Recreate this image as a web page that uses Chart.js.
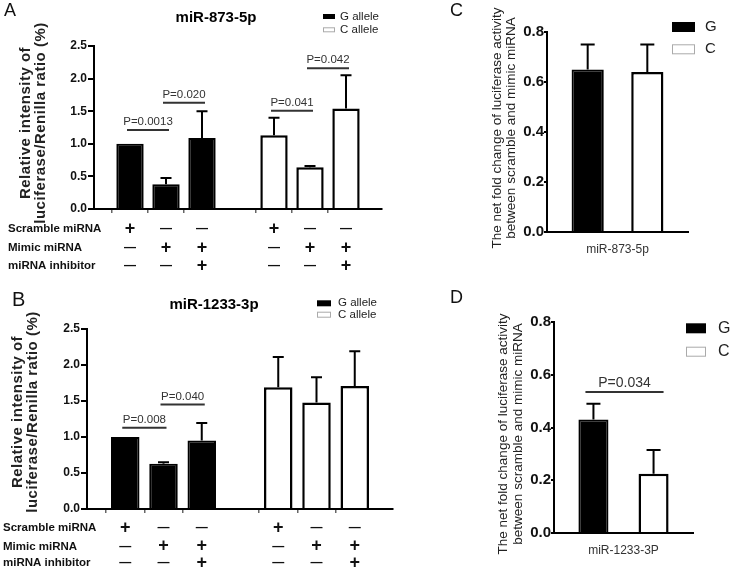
<!DOCTYPE html>
<html>
<head>
<meta charset="utf-8">
<script src="https://cdn.jsdelivr.net/npm/chart.js@4.4.1/dist/chart.umd.min.js"></script>
<style>
  html, body { margin: 0; padding: 0; background: #fff; }
  #fig { position: relative; width: 733px; height: 570px; overflow: hidden; background: #fff; }
  #fig canvas { position: absolute; }
</style>
</head>
<body>
<div id="fig">
  <canvas id="chartA" width="450" height="280" style="left:0;top:0"></canvas>
  <canvas id="chartB" width="450" height="290" style="left:0;top:280px"></canvas>
  <canvas id="chartC" width="283" height="280" style="left:450px;top:0"></canvas>
  <canvas id="chartD" width="283" height="280" style="left:450px;top:290px"></canvas>
</div>
<script>
// panels A / B: three treatments for each allele
const treatments = ["Scramble", "Mimic", "Mimic + inhibitor"];
const rowLabels = ["Scramble miRNA", "Mimic miRNA", "miRNA inhibitor"];
const scrambleRow = ["+", "—", "—"];
const mimicRow = ["—", "+", "+"];
const inhibitorRow = ["—", "—", "+"];

const mir873G = [1.00, 0.38, 1.09];
const mir873GErr = [0, 0.095, 0.41];
const mir873C = [1.13, 0.64, 1.54];
const mir873CErr = [0.27, 0.02, 0.51];

const mir1233G = [1.00, 0.63, 0.95];
const mir1233GErr = [0, 0.02, 0.245];
const mir1233C = [1.69, 1.48, 1.71];
const mir1233CErr = [0.42, 0.35, 0.48];

// panels C / D: net fold change, G vs C
const alleles = ["G", "C"];
const net873 = [0.65, 0.64];
const net873Err = [0.10, 0.11];
const net1233 = [0.43, 0.225];
const net1233Err = [0.06, 0.09];

// significance brackets: allele (0 = G, 1 = C), treatment indexes, height
const pA = [
    { allele: 0, from: 0, to: 1, y: 1.21, text: "P=0.0013" },
    { allele: 0, from: 1, to: 2, y: 1.63, text: "P=0.020" },
    { allele: 1, from: 0, to: 1, y: 1.505, text: "P=0.041" },
    { allele: 1, from: 1, to: 2, y: 2.16, text: "P=0.042" },
];
const pB = [
    { allele: 0, from: 0, to: 1, y: 1.13, text: "P=0.008" },
    { allele: 0, from: 1, to: 2, y: 1.45, text: "P=0.040" },
];
const pD = [{ y: 0.535, text: "P=0.034" }];

const FONT = '"Liberation Sans", Arial, sans-serif';
const NARROW = '"Liberation Sans Narrow", "Liberation Sans", Arial, sans-serif';
Chart.defaults.font.family = FONT;
Chart.defaults.color = "#000";

// 9 slots: empty edge, G treatments, gap, C treatments, empty edge
const slots = ["", ...treatments, "", ...treatments, ""];
function pad(values, allele) {
    const out = slots.map(() => null);
    values.forEach((v, i) => { out[(allele === 0 ? 1 : 5) + i] = v; });
    return out;
}
function slotOf(allele, i) {
    return (allele === 0 ? 1 : 5) + i;
}

function txt(ctx, s, x, y, font, color, align, spacing) {
    ctx.font = font;
    ctx.fillStyle = color;
    ctx.textAlign = align || "left";
    ctx.textBaseline = "middle";
    ctx.letterSpacing = spacing || "0px";
    ctx.fillText(s, x, y);
    ctx.letterSpacing = "0px";
}

const decor = {
    id: "decor",
    afterDatasetsDraw(chart, args, o) {
        const ctx = chart.ctx;
        const ys = chart.scales.y;
        ctx.save();

        // error bars (upper only)
        chart.data.datasets.forEach((ds, di) => {
            const meta = chart.getDatasetMeta(di);
            meta.data.forEach((bar, i) => {
                const v = ds.data[i];
                const e = ds.errors[i];
                if (v == null || !e) return;
                const top = ys.getPixelForValue(v + e);
                ctx.strokeStyle = "#000";
                ctx.lineWidth = 2;
                ctx.beginPath();
                ctx.moveTo(bar.x, bar.y);
                ctx.lineTo(bar.x, top);
                ctx.moveTo(bar.x - o.cap / 2, top);
                ctx.lineTo(bar.x + o.cap / 2, top);
                ctx.stroke();
            });
        });

        // p-value brackets
        o.brackets.forEach(b => {
            const x1 = b.x1(chart) - o.over[0];
            const x2 = b.x2(chart) + o.over[1];
            const py = ys.getPixelForValue(b.y);
            ctx.strokeStyle = "#333";
            ctx.lineWidth = 2;
            ctx.beginPath();
            ctx.moveTo(x1, py);
            ctx.lineTo(x2, py);
            ctx.stroke();
            txt(ctx, b.text, (x1 + x2) / 2, py - o.pGap, o.pFont, "#333", "center");
        });

        // panel letter and title
        txt(ctx, o.letter.text, o.letter.x, o.letter.y, o.letter.font, "#111");
        if (o.title) {
            txt(ctx, o.title.text, o.title.x, o.title.y, "bold 15px " + FONT, "#000", "center");
        }

        // legend
        const lg = o.legend;
        chart.data.datasets.forEach((ds, di) => {
            const ry = lg.y[di];
            if (di === 0) {
                ctx.fillStyle = "#000";
                ctx.fillRect(lg.x, ry - lg.h / 2, lg.w, lg.h);
            } else {
                ctx.strokeStyle = "#aaa";
                ctx.lineWidth = 1;
                ctx.strokeRect(lg.x + 0.5, ry - lg.h / 2 + 0.5, lg.w - 1, lg.h - 1);
            }
            txt(ctx, ds.label, lg.tx, ry, lg.font, "#222");
        });

        // y axis title, two rotated lines
        const yt = o.yTitle;
        yt.lines.forEach((line, i) => {
            ctx.save();
            ctx.translate(yt.x[i], yt.cy);
            ctx.rotate(-Math.PI / 2);
            txt(ctx, line, 0, 0, yt.font, yt.color, "center", yt.spacing);
            ctx.restore();
        });

        // treatment table under the x axis
        if (o.table) {
            const xs = chart.scales.x;
            const rows = [scrambleRow, mimicRow, inhibitorRow];
            rows.forEach((row, r) => {
                const ry = o.table.y[r];
                txt(ctx, rowLabels[r], o.table.labelX, ry, "bold 11.5px " + FONT, "#111");
                [0, 1].forEach(allele => {
                    row.forEach((sym, i) => {
                        const x = xs.getPixelForValue(slotOf(allele, i));
                        const f = sym === "+" ? "bold 18px " + FONT : "bold 12px " + FONT;
                        txt(ctx, sym, x, ry, f, "#111", "center");
                    });
                });
            });
        }
        ctx.restore();
    },
};

function barX(allele, i) {
    return chart => chart.scales.x.getPixelForValue(slotOf(allele, i));
}

function treatmentChart(id, g, gErr, c, cErr, p, cfg) {
    return new Chart(document.getElementById(id), {
        type: "bar",
        data: {
            labels: slots,
            datasets: [
                {
                    label: "G allele",
                    data: pad(g, 0),
                    errors: pad(gErr, 0),
                    backgroundColor: "#000",
                    borderColor: "#000",
                    borderWidth: 2,
                    grouped: false,
                },
                {
                    label: "C allele",
                    data: pad(c, 1),
                    errors: pad(cErr, 1),
                    backgroundColor: "#fff",
                    borderColor: "#000",
                    borderWidth: 2.5,
                    grouped: false,
                },
            ],
        },
        options: {
            responsive: false,
            animation: false,
            devicePixelRatio: 1,
            categoryPercentage: 1,
            barPercentage: cfg.barPct,
            layout: { padding: cfg.padding },
            plugins: {
                legend: { display: false },
                tooltip: { enabled: false },
                decor: {
                    cap: 11,
                    over: [3, 3],
                    pGap: 8,
                    pFont: "11.5px " + FONT,
                    brackets: p.map(b => ({
                        x1: barX(b.allele, b.from),
                        x2: barX(b.allele, b.to),
                        y: b.y,
                        text: b.text,
                    })),
                    letter: cfg.letter,
                    title: cfg.title,
                    legend: cfg.legend,
                    yTitle: {
                        lines: ["Relative intensity of", "luciferase/Renilla ratio (%)"],
                        x: cfg.yTitleX,
                        cy: cfg.yTitleCy,
                        font: "bold 15px " + FONT,
                        spacing: "0.5px",
                        color: "#222",
                    },
                    table: cfg.table,
                },
            },
            scales: {
                x: {
                    offset: false,
                    border: { display: true, color: "#000", width: 2 },
                    grid: {
                        drawOnChartArea: false,
                        tickLength: 4,
                        lineWidth: 1.5,
                        color: ctx => (slots[ctx.index] ? "#666" : "rgba(0,0,0,0)"),
                    },
                    ticks: { display: false },
                    afterFit: s => { s.height = cfg.xHeight; },
                },
                y: {
                    min: 0,
                    max: 2.5,
                    border: { display: true, color: "#000", width: 2 },
                    grid: { drawOnChartArea: false, tickLength: 6, lineWidth: 2, color: "#000" },
                    ticks: {
                        stepSize: 0.5,
                        padding: 1,
                        color: "#111",
                        font: { size: 12, weight: "bold" },
                        callback: v => v.toFixed(1),
                    },
                    afterFit: s => { s.width = cfg.yWidth; },
                },
            },
        },
        plugins: [decor],
    });
}

function netChart(id, label, values, errs, p, cfg) {
    return new Chart(document.getElementById(id), {
        type: "bar",
        data: {
            labels: label,
            datasets: alleles.map((a, i) => ({
                label: a,
                data: [values[i]],
                errors: [errs[i]],
                backgroundColor: i === 0 ? "#000" : "#fff",
                borderColor: "#000",
                borderWidth: i === 0 ? 2 : 2.5,
            })),
        },
        options: {
            responsive: false,
            animation: false,
            devicePixelRatio: 1,
            categoryPercentage: cfg.catPct,
            barPercentage: cfg.barPct,
            layout: { padding: cfg.padding },
            plugins: {
                legend: { display: false },
                tooltip: { enabled: false },
                decor: {
                    cap: 14,
                    over: [8, 10],
                    pGap: 9,
                    pFont: "14px " + FONT,
                    brackets: p.map(b => ({
                        x1: chart => chart.getDatasetMeta(0).data[0].x,
                        x2: chart => chart.getDatasetMeta(1).data[0].x,
                        y: b.y,
                        text: b.text,
                    })),
                    letter: cfg.letter,
                    legend: cfg.legend,
                    yTitle: {
                        lines: ["The net fold change of luciferase activity", "between scramble and mimic miRNA"],
                        x: cfg.yTitleX,
                        cy: cfg.yTitleCy,
                        font: "13.5px " + FONT,
                        color: "#222",
                    },
                },
            },
            scales: {
                x: {
                    border: { display: true, color: "#000", width: 2 },
                    grid: { display: false, drawTicks: false },
                    ticks: { padding: 10, color: "#333", font: { size: 12 } },
                    afterFit: s => { s.height = cfg.xHeight; },
                },
                y: {
                    min: 0,
                    max: 0.8,
                    border: { display: true, color: "#000", width: 2 },
                    grid: { drawOnChartArea: false, tickLength: 3, lineWidth: 2, color: "#000" },
                    ticks: {
                        stepSize: 0.2,
                        padding: 0,
                        color: "#111",
                        font: { family: NARROW, size: 15, weight: "bold" },
                        callback: v => v.toFixed(1),
                    },
                    afterFit: s => { s.width = cfg.yWidth; },
                },
            },
        },
        plugins: [decor],
    });
}

treatmentChart("chartA", mir873G, mir873GErr, mir873C, mir873CErr, pA, {
    barPct: 0.76,
    padding: { left: 0, right: 68, top: 46, bottom: 0 },
    yWidth: 94,
    xHeight: 71,
    letter: { text: "A", x: 4, y: 11, font: "18px " + FONT },
    title: { text: "miR-873-5p", x: 216, y: 18 },
    legend: { x: 323, y: [16.5, 29.8], w: 12, h: 5, tx: 340, font: "11.5px " + FONT },
    yTitleX: [26, 41],
    yTitleCy: 123,
    table: { labelX: 8, y: [229, 248, 266] },
});

treatmentChart("chartB", mir1233G, mir1233GErr, mir1233C, mir1233CErr, pB, {
    barPct: 0.745,
    padding: { left: 0, right: 57, top: 49, bottom: 0 },
    yWidth: 87,
    xHeight: 61,
    letter: { text: "B", x: 12, y: 20, font: "20px " + FONT },
    title: { text: "miR-1233-3p", x: 214, y: 25 },
    legend: { x: 317, y: [23.3, 34.7], w: 14, h: 6, tx: 338, font: "11.5px " + FONT },
    yTitleX: [18, 33],
    yTitleCy: 132,
    table: { labelX: 3, y: [248, 266.5, 283] },
});

netChart("chartC", ["miR-873-5p"], net873, net873Err, [], {
    catPct: 0.846,
    barPct: 0.54,
    padding: { left: 0, right: 45, top: 32, bottom: 0 },
    yWidth: 97,
    xHeight: 48,
    letter: { text: "C", x: 0, y: 11, font: "18px " + FONT },
    legend: { x: 222, y: [27, 49.3], w: 23, h: 10, tx: 255, font: "15px " + FONT },
    yTitleX: [47, 61],
    yTitleCy: 128,
});

netChart("chartD", ["miR-1233-3P"], net1233, net1233Err, pD, {
    catPct: 0.865,
    barPct: 0.5,
    padding: { left: 0, right: 40, top: 32, bottom: 0 },
    yWidth: 104,
    xHeight: 37,
    letter: { text: "D", x: 0, y: 8, font: "18px " + FONT },
    legend: { x: 236, y: [38.3, 61.7], w: 20, h: 10, tx: 268, font: "16px " + FONT },
    yTitleX: [53, 68],
    yTitleCy: 144,
});
</script>
</body>
</html>
